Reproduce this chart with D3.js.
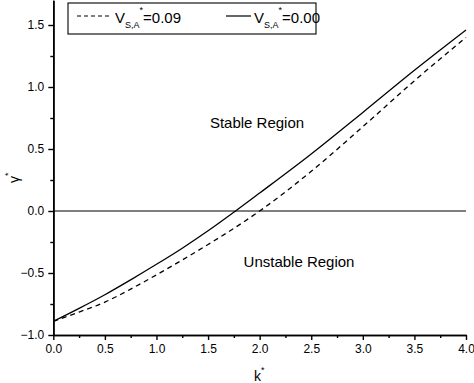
<!DOCTYPE html>
<html>
<head>
<meta charset="utf-8">
<script src="https://cdn.jsdelivr.net/npm/d3@7"></script>
<style>
  html, body { margin: 0; padding: 0; background: #fff; }
  svg { display: block; font-family: Arial, "Liberation Sans", sans-serif; }
</style>
</head>
<body>
<svg id="chart" width="474" height="383"></svg>
<script>
// ---- data ----
const kSolid   = [0, 0.25, 0.5, 0.75, 1.0, 1.25, 1.5, 1.75, 2.0, 2.5, 3.0, 3.5, 4.0];
const gSolid   = [-0.89, -0.785, -0.675, -0.555, -0.43, -0.30, -0.16, -0.01, 0.145, 0.46, 0.795, 1.135, 1.46];
const kDashed  = [0, 0.25, 0.5, 0.75, 1.0, 1.25, 1.5, 1.75, 2.0, 2.5, 3.0, 3.5, 4.0];
const gDashed  = [-0.89, -0.815, -0.735, -0.63, -0.515, -0.395, -0.27, -0.14, 0.0, 0.32, 0.68, 1.05, 1.40];
const xTicks   = [0, 0.5, 1.0, 1.5, 2.0, 2.5, 3.0, 3.5, 4.0];
const yTicks   = [-1.0, -0.5, 0.0, 0.5, 1.0, 1.5];
const legendValues = ["0.09", "0.00"];
const regionLabels = ["Stable Region", "Unstable Region"];

const svg = d3.select("#chart");
const x = d3.scaleLinear().domain([0, 4]).range([53.3, 466]);
const y = d3.scaleLinear().domain([-1, 1.7]).range([335, 0.2]);

// axes
const xAxis = d3.axisBottom(x).tickValues(xTicks).tickFormat(d3.format(".1f")).tickSizeInner(5).tickSizeOuter(0).tickPadding(4);
const xMinor = d3.axisBottom(x).tickValues(d3.range(0.25, 4, 0.5)).tickFormat("").tickSizeInner(3).tickSizeOuter(0);
const yAxis = d3.axisLeft(y).tickValues(yTicks).tickFormat(d3.format(".1f")).tickSizeInner(5).tickSizeOuter(0).tickPadding(4);
const yMinor = d3.axisLeft(y).tickValues([-0.75, -0.25, 0.25, 0.75, 1.25]).tickFormat("").tickSizeInner(3).tickSizeOuter(0);

function styleAxis(g) {
  g.select(".domain").attr("stroke", "#000").attr("stroke-width", 1.6);
  g.selectAll(".tick line").attr("stroke", "#000").attr("stroke-width", 1.4);
  g.selectAll(".tick text").attr("fill", "#000").style("font-size", "12px").style("font-family", "Arial, 'Liberation Sans', sans-serif");
}

svg.append("g").attr("transform", "translate(0,335)").call(xMinor).call(styleAxis);
svg.append("g").attr("transform", "translate(0,335)").call(xAxis).call(styleAxis);
svg.append("g").attr("transform", "translate(53.3,0)").call(yMinor).call(styleAxis);
svg.append("g").attr("transform", "translate(53.3,0)").call(yAxis).call(styleAxis);

// zero line
svg.append("line")
  .attr("x1", x(0)).attr("x2", x(4))
  .attr("y1", y(0)).attr("y2", y(0))
  .attr("stroke", "#000").attr("stroke-width", 1.1);

// curves
const line = d3.line().x(d => x(d[0])).y(d => y(d[1])).curve(d3.curveMonotoneX);
svg.append("path")
  .datum(kSolid.map((k, i) => [k, gSolid[i]]))
  .attr("d", line).attr("fill", "none").attr("stroke", "#000").attr("stroke-width", 1.3);
svg.append("path")
  .datum(kDashed.map((k, i) => [k, gDashed[i]]))
  .attr("d", line).attr("fill", "none").attr("stroke", "#000").attr("stroke-width", 1.3)
  .attr("stroke-dasharray", "5,4");

// region labels
svg.append("text").attr("x", 257).attr("y", 128).attr("text-anchor", "middle")
  .style("font-size", "15px").text(regionLabels[0]);
svg.append("text").attr("x", 299).attr("y", 267).attr("text-anchor", "middle")
  .style("font-size", "15px").text(regionLabels[1]);

// axis titles
const xt = svg.append("text").attr("x", 254).attr("y", 381).style("font-size", "14px");
xt.append("tspan").text("k");
xt.append("tspan").attr("dy", -8).style("font-size", "9px").text("*");

const yt = svg.append("text").attr("transform", "translate(19,183) rotate(-90)").style("font-size", "14px");
yt.append("tspan").text("γ");
yt.append("tspan").attr("dy", -8).style("font-size", "9px").text("*");

// legend
svg.append("rect").attr("x", 68).attr("y", 3).attr("width", 248).attr("height", 31)
  .attr("fill", "#fff").attr("stroke", "#000").attr("stroke-width", 1.1);
const legendItems = [
  { x1: 77, x2: 112, tx: 115, dash: "4,3", val: legendValues[0] },
  { x1: 226, x2: 251, tx: 254, dash: null, val: legendValues[1] }
];
legendItems.forEach(it => {
  svg.append("line").attr("x1", it.x1).attr("x2", it.x2).attr("y1", 16).attr("y2", 16)
    .attr("stroke", "#000").attr("stroke-width", 1.2)
    .attr("stroke-dasharray", it.dash);
  const t = svg.append("text").attr("x", it.tx).attr("y", 23).style("font-size", "15px");
  t.append("tspan").text("V");
  t.append("tspan").attr("dy", 5).style("font-size", "9px").text("S,A");
  t.append("tspan").attr("dy", -15).style("font-size", "9px").text("*");
  t.append("tspan").attr("dy", 10).text("=" + it.val);
});
</script>
</body>
</html>
